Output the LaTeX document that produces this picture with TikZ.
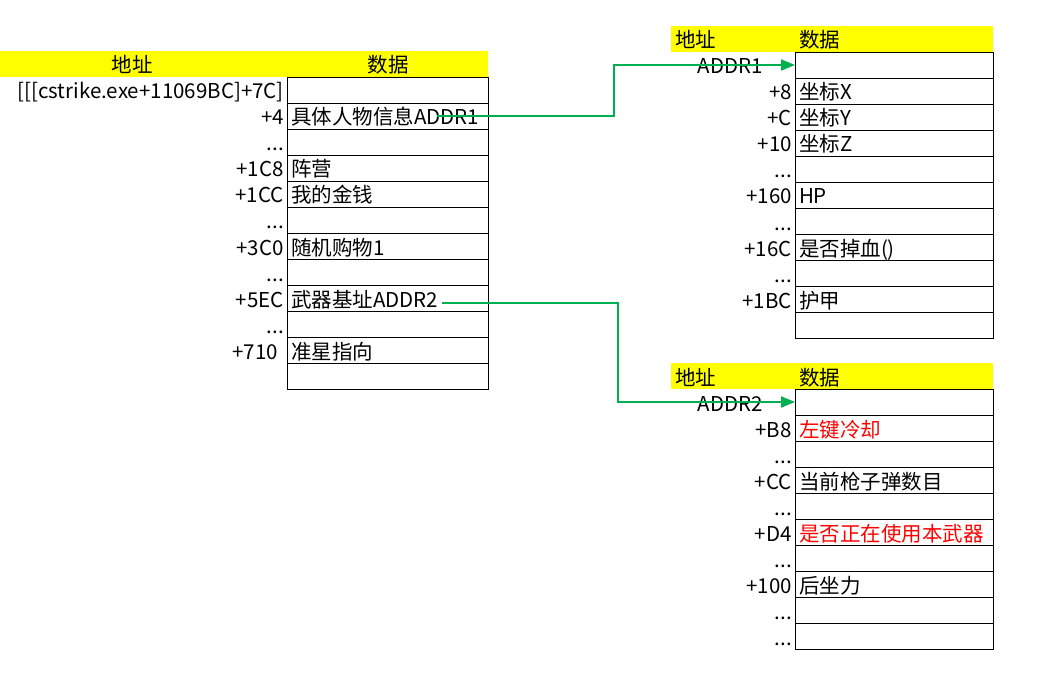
\documentclass[tikz,border=0pt]{standalone}
\usepackage{fontspec}
\setmainfont{Noto Sans CJK SC}
\usepackage{tikz}
\usetikzlibrary{arrows.meta,positioning}
\definecolor{headyellow}{RGB}{255,255,0}
\definecolor{linkgreen}{RGB}{0,176,80}
\definecolor{alertred}{RGB}{255,0,0}

\begin{document}
\begin{tikzpicture}[
  x=1pt, y=-1pt,
  node distance=0pt,
  every node/.style={font=\fontsize{20.5}{24}\selectfont},
  cell/.style={
    rectangle,
    draw=black,
    line width=0.9pt,
    text width=193pt,
    minimum height=26pt,
    inner xsep=4pt,
    inner ysep=0pt,
    outer sep=0pt,
    text height=20pt,
    text depth=2pt,
    align=left
  },
  rcell/.style={cell, text width=190pt},
  addr/.style={
    inner xsep=3pt,
    inner ysep=0pt,
    text height=20pt,
    text depth=2pt
  },
  head/.style={
    rectangle,
    fill=headyellow,
    minimum height=26pt,
    inner sep=0pt,
    outer sep=0pt
  },
  htext/.style={inner xsep=4pt, inner ysep=0pt, text height=20pt, text depth=2pt},
  hot/.style={text=alertred},
  link/.style={draw=linkgreen, line width=2pt, -{Triangle[length=14pt,width=11pt]}}
]
\useasboundingbox (0,0) rectangle (1050,674);

% Left table
\node[head, minimum width=488pt, anchor=north west] (hL) at (0,51) {};
\node[htext] (hLaddr) at (132,64) {地址};
\node[htext] (hLdata) at (388,64) {数据};

\node[cell, anchor=north west, label={[addr]left:{[[[cstrike.exe+11069BC]+7C]}}] (L1) at (287,77) {};
\node[cell, below=of L1, label={[addr]left:+4}] (L2) {具体人物信息ADDR1};
\node[cell, below=of L2, label={[addr]left:...}] (L3) {};
\node[cell, below=of L3, label={[addr]left:+1C8}] (L4) {阵营};
\node[cell, below=of L4, label={[addr]left:+1CC}] (L5) {我的金钱};
\node[cell, below=of L5, label={[addr]left:...}] (L6) {};
\node[cell, below=of L6, label={[addr]left:+3C0}] (L7) {随机购物1};
\node[cell, below=of L7, label={[addr]left:...}] (L8) {};
\node[cell, below=of L8, label={[addr]left:+5EC}] (L9) {武器基址ADDR2};
\node[cell, below=of L9, label={[addr]left:...}] (L10) {};
\node[cell, below=of L10, label={[addr, xshift=-6pt]left:+710}] (L11) {准星指向};
\node[cell, below=of L11] (L12) {};

% Person table
\node[rcell, anchor=north west] (A1) at (795,52) {};
\node[head, minimum width=322pt, anchor=south east] (hA) at (A1.north east) {};
\node[htext, anchor=west] (hAaddr) at (hA.west) {地址};
\node[htext, anchor=west] (hAdata) at (hA.west -| A1.west) {数据};
\node[addr, left=29pt of A1] (nameA) {ADDR1};
\node[rcell, below=of A1, label={[addr]left:+8}] (A2) {坐标X};
\node[rcell, below=of A2, label={[addr]left:+C}] (A3) {坐标Y};
\node[rcell, below=of A3, label={[addr]left:+10}] (A4) {坐标Z};
\node[rcell, below=of A4, label={[addr]left:...}] (A5) {};
\node[rcell, below=of A5, label={[addr]left:+160}] (A6) {HP};
\node[rcell, below=of A6, label={[addr]left:...}] (A7) {};
\node[rcell, below=of A7, label={[addr]left:+16C}] (A8) {是否掉血()};
\node[rcell, below=of A8, label={[addr]left:...}] (A9) {};
\node[rcell, below=of A9, label={[addr]left:+1BC}] (A10) {护甲};
\node[rcell, below=of A10] (A11) {};

% Weapon table
\node[rcell, anchor=north west] (B1) at (795,389) {};
\node[head, minimum width=322pt, anchor=south east] (hB) at (B1.north east) {};
\node[htext, anchor=west] (hBaddr) at (hB.west) {地址};
\node[htext, anchor=west] (hBdata) at (hB.west -| B1.west) {数据};
\node[addr, left=29pt of B1] (nameB) {ADDR2};
\node[rcell, hot, below=of B1, label={[addr]left:+B8}] (B2) {左键冷却};
\node[rcell, below=of B2, label={[addr]left:...}] (B3) {};
\node[rcell, below=of B3, label={[addr]left:+CC}] (B4) {当前枪子弹数目};
\node[rcell, below=of B4, label={[addr]left:...}] (B5) {};
\node[rcell, hot, below=of B5, label={[addr]left:+D4}] (B6) {是否正在使用本武器};
\node[rcell, below=of B6, label={[addr]left:...}] (B7) {};
\node[rcell, below=of B7, label={[addr]left:+100}] (B8) {后坐力};
\node[rcell, below=of B8, label={[addr]left:...}] (B9) {};
\node[rcell, below=of B9, label={[addr]left:...}] (B10) {};

% Pointers
\coordinate (s1) at (437,116);
\coordinate (s2) at (442,303);
\draw[link] (s1) -- ++(177,0) |- (A1.west);
\draw[link] (s2) -- ++(176,0) |- (B1.west);

\end{tikzpicture}
\end{document}
